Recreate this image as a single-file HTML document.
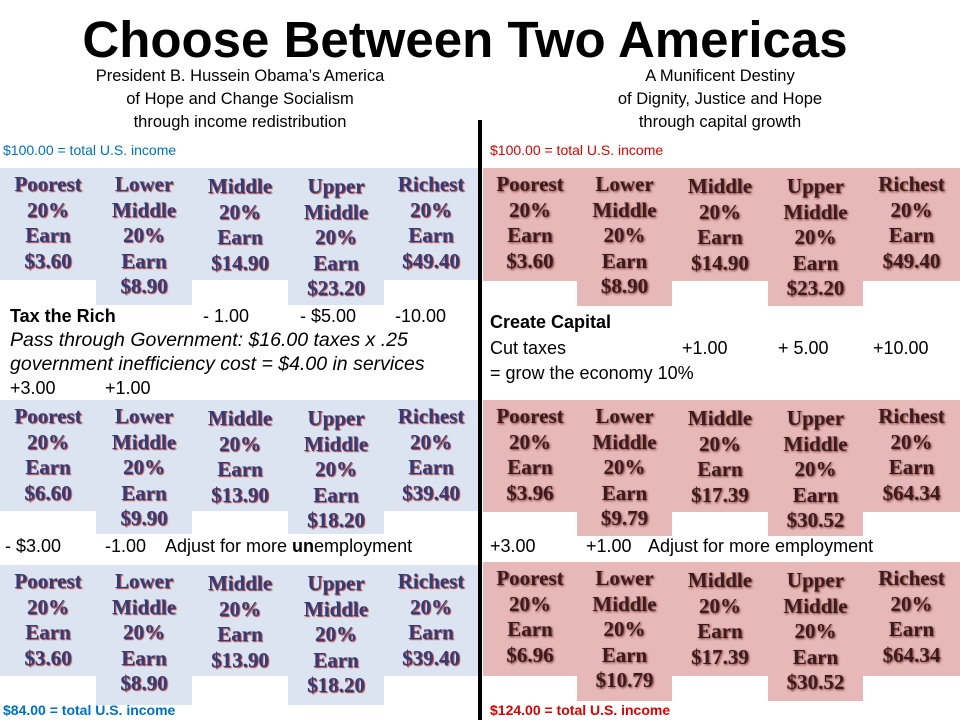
<!DOCTYPE html>
<html><head><meta charset="utf-8"><style>
body{margin:0;width:960px;height:720px;background:#fff;position:relative;overflow:hidden;font-family:"Liberation Sans",sans-serif}
.a{position:absolute;white-space:nowrap}
.cell{position:absolute;text-align:center;font-family:"Liberation Serif",serif;font-weight:bold;font-size:21px;line-height:25.5px}
.L{background:#dbe4f0;color:#2f3d78;text-shadow:1px 1px 1px #b03030}
.R{background:#e6b8b7;color:#3a1c1c;text-shadow:1px 1px 2px #7a3030}
.t{font-size:18px;color:#000}
</style></head><body>
<div class="a" style="left:0;width:930px;text-align:center;top:10px;font-size:51px;font-weight:bold">Choose Between Two Americas</div>
<div class="a" style="left:40px;width:400px;text-align:center;top:65px;font-size:16.5px;line-height:23px;white-space:normal">President B. Hussein Obama’s America<br>of Hope and Change Socialism<br>through income redistribution</div>
<div class="a" style="left:520px;width:400px;text-align:center;top:65px;font-size:16.5px;line-height:23px;white-space:normal">A Munificent Destiny<br>of Dignity, Justice and Hope<br>through capital growth</div>
<div class="a" style="left:478px;top:120px;width:4px;height:600px;background:#000"></div>
<div class="a" style="left:3px;top:142px;font-size:14px;color:#0070c0">$100.00 = total U.S. income</div>
<div class="a" style="left:490px;top:142px;font-size:14px;color:#e00000">$100.00 = total U.S. income</div>
<div class="a" style="left:3px;top:702px;font-size:14px;color:#0070c0;font-weight:bold">$84.00 = total U.S. income</div>
<div class="a" style="left:490px;top:702px;font-size:14px;color:#e00000;font-weight:bold">$124.00 = total U.S. income</div>

<div class="a t" style="left:10px;top:306px;font-weight:bold">Tax the Rich</div>
<div class="a t" style="left:203px;top:306px">- 1.00</div>
<div class="a t" style="left:300px;top:306px">- $5.00</div>
<div class="a t" style="left:395px;top:306px">-10.00</div>
<div class="a t" style="left:10px;top:329px;font-style:italic;font-size:19.5px">Pass through Government: $16.00 taxes x .25</div>
<div class="a t" style="left:10px;top:353px;font-style:italic;font-size:19.5px">government inefficiency cost = $4.00 in services</div>
<div class="a t" style="left:10px;top:378px">+3.00</div>
<div class="a t" style="left:105px;top:378px">+1.00</div>
<div class="a t" style="left:5px;top:536px">- $3.00</div>
<div class="a t" style="left:105px;top:536px">-1.00</div>
<div class="a t" style="left:165px;top:536px">Adjust for more <b>un</b>employment</div>

<div class="a t" style="left:490px;top:312px;font-weight:bold">Create Capital</div>
<div class="a t" style="left:490px;top:338px">Cut taxes</div>
<div class="a t" style="left:682px;top:338px">+1.00</div>
<div class="a t" style="left:778px;top:338px">+ 5.00</div>
<div class="a t" style="left:873px;top:338px">+10.00</div>
<div class="a t" style="left:490px;top:363px">= grow the economy 10%</div>
<div class="a t" style="left:490px;top:536px">+3.00</div>
<div class="a t" style="left:586px;top:536px">+1.00</div>
<div class="a t" style="left:648px;top:536px">Adjust for more employment</div>

<script>
const leftX=[0,96,192,288,384,478];
const rightX=[483,577,672,768,863,960];
const names=["poorest","lower-middle","middle","upper-middle","richest"];
const heads=[["Poorest","20%","Earn"],["Lower","Middle","20%","Earn"],["Middle","20%","Earn"],["Upper","Middle","20%","Earn"],["Richest","20%","Earn"]];
const leftVals=[["$3.60","$8.90","$14.90","$23.20","$49.40"],["$6.60","$9.90","$13.90","$18.20","$39.40"],["$3.60","$8.90","$13.90","$18.20","$39.40"]];
const rightVals=[["$3.60","$8.90","$14.90","$23.20","$49.40"],["$3.96","$9.79","$17.39","$30.52","$64.34"],["$6.96","$10.79","$17.39","$30.52","$64.34"]];
const blocksL=[[168,280,305],[400,511,534],[565,676,705]];
const blocksR=[[168,281,306],[400,512,536],[562,676,701]];
function build(xs,vals,blocks,cls,side){
  blocks.forEach((b,bi)=>{
    for(let i=0;i<5;i++){
      const tall=(i==1||i==3);
      const d=document.createElement('div');
      d.className='cell '+cls;
      
      
      d.style.left=xs[i]+'px';d.style.width=(xs[i+1]-xs[i])+'px';
      d.style.top=b[0]+'px';d.style.height=((tall?b[2]:b[1])-b[0])+'px';
      d.style.paddingTop=(i==0||i==4?4:(i==1?4:6))+'px';d.style.boxSizing='border-box';
      d.innerHTML=heads[i].concat([vals[bi][i]]).join('<br>');
      document.body.appendChild(d);
    }
  });
}
build(leftX,leftVals,blocksL,'L','left');
build(rightX,rightVals,blocksR,'R','right');
</script>
</body></html>
